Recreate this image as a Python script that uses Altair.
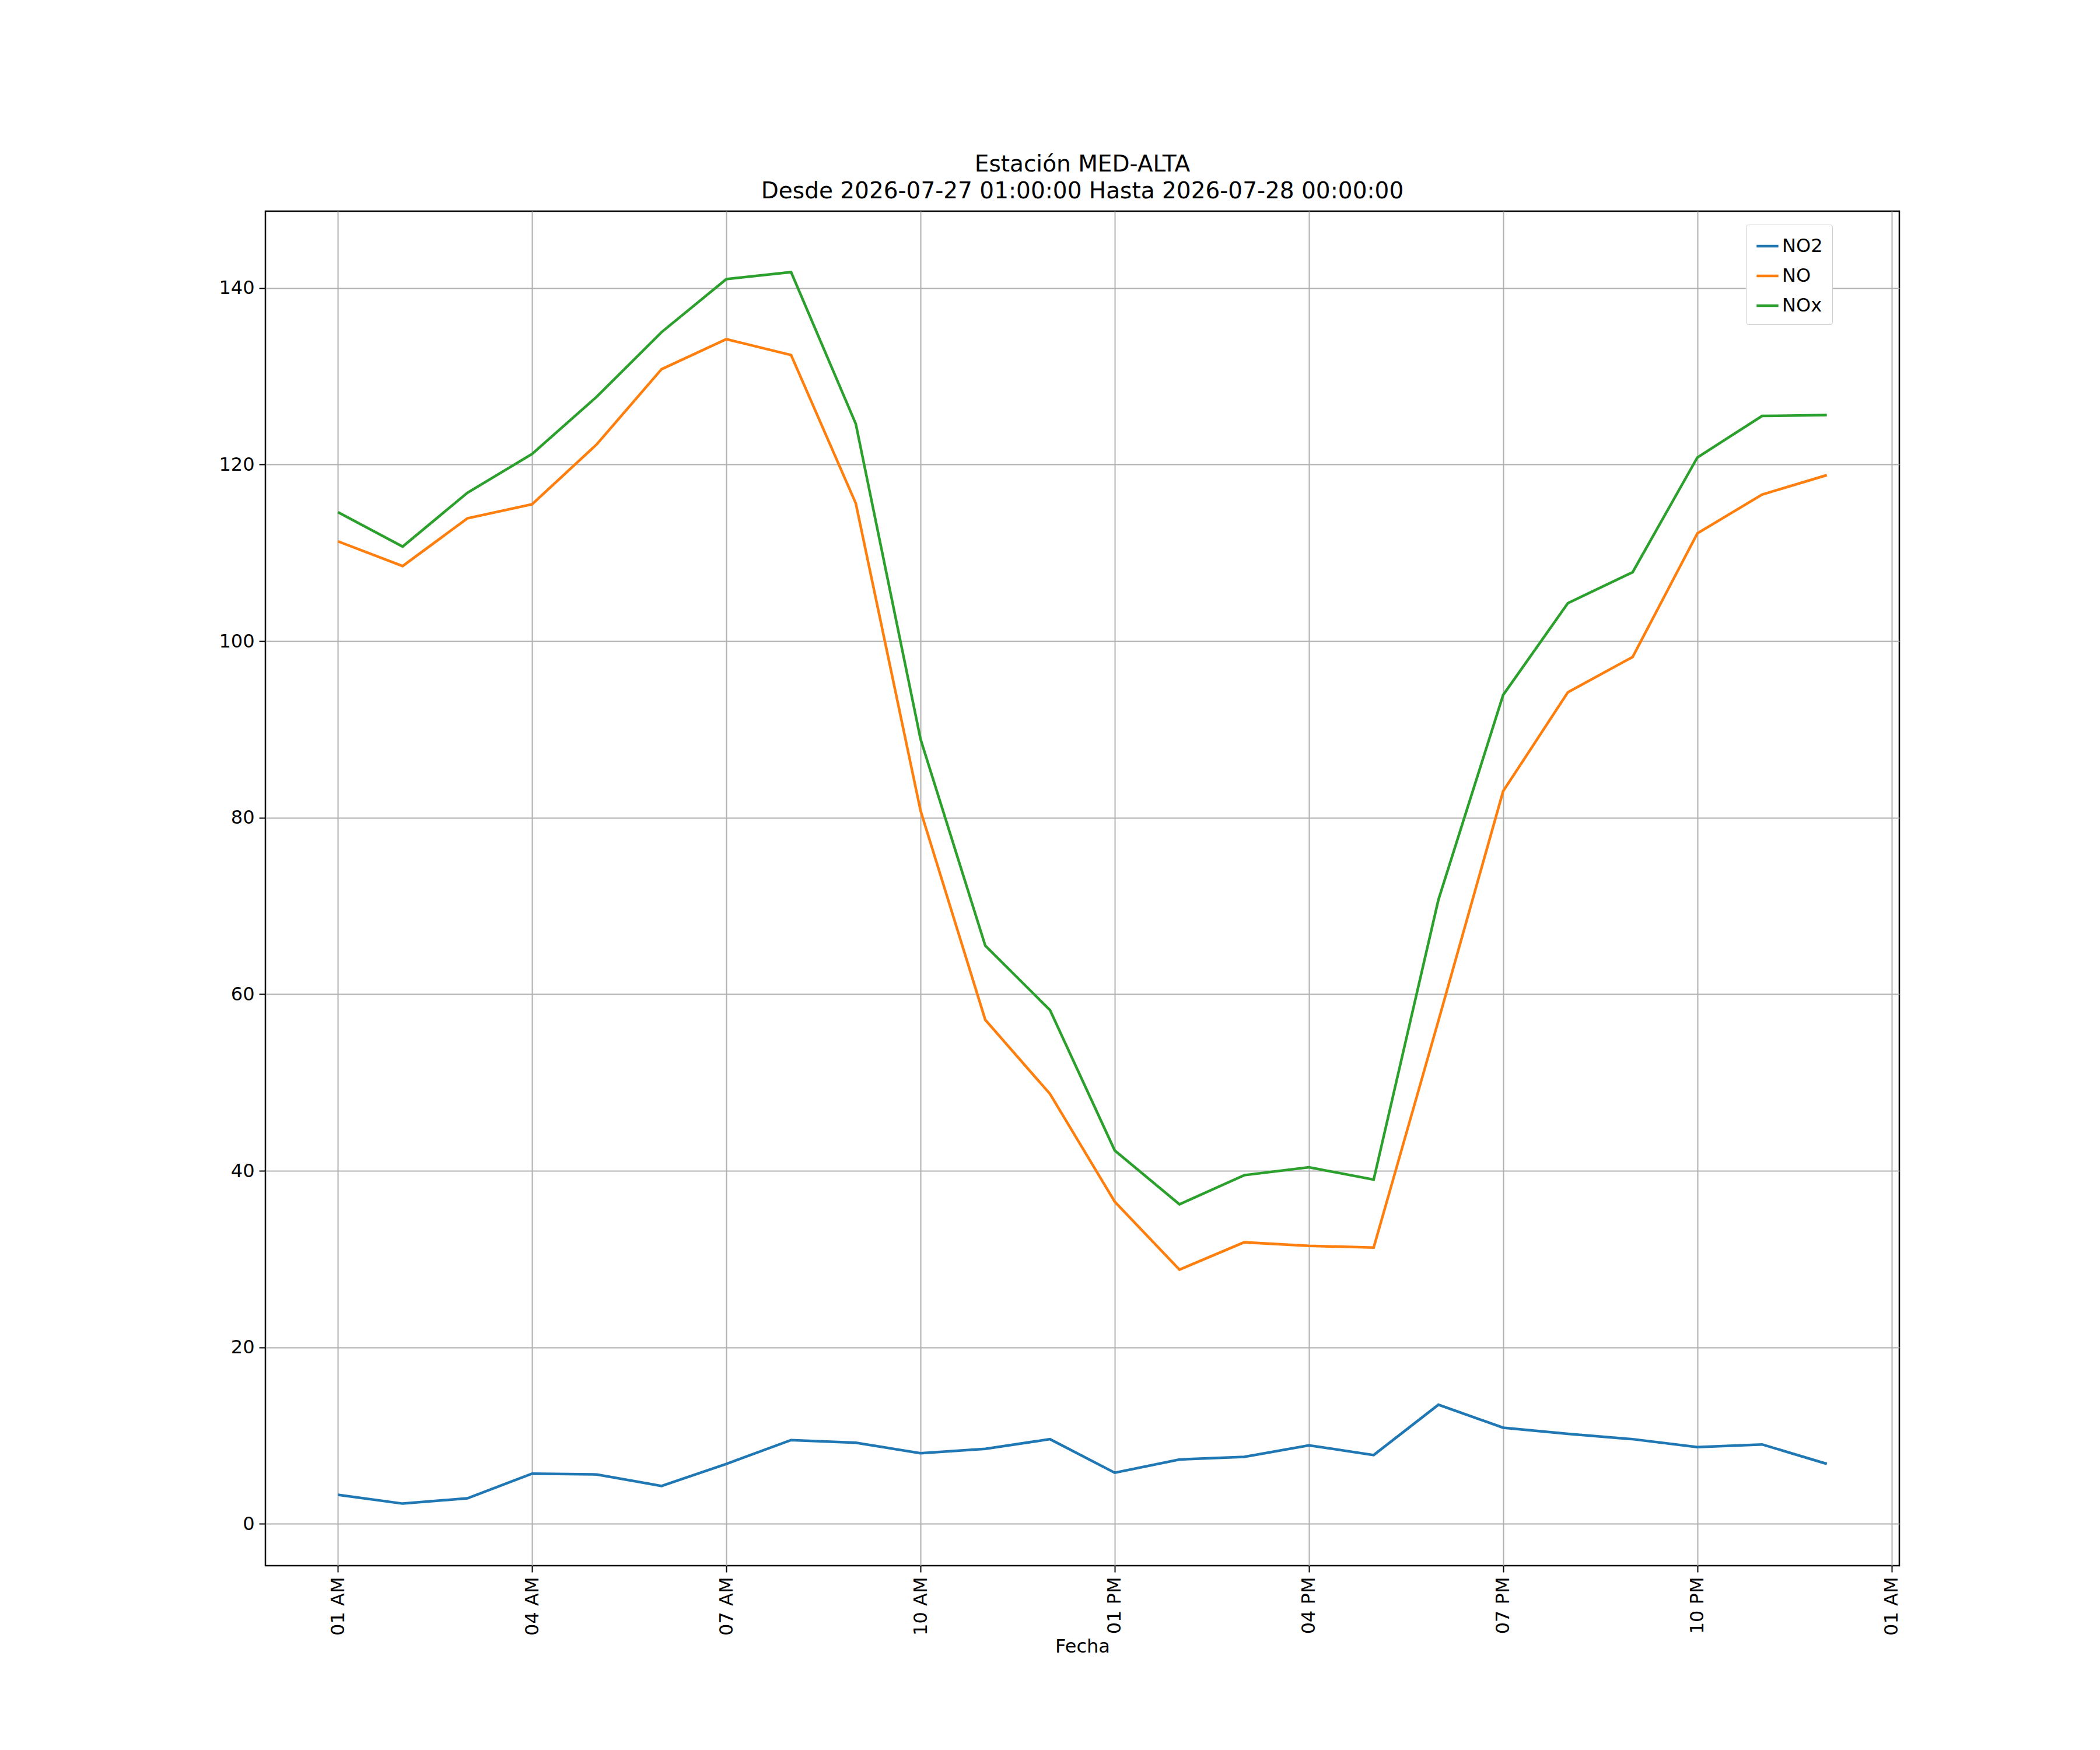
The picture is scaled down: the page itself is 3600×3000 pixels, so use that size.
import altair as alt
import pandas as pd

hours = pd.date_range("2026-07-27 01:00:00", periods=24, freq="h")
no2 = [3.3, 2.3, 2.9, 5.7, 5.6, 4.3, 6.8, 9.5, 9.2, 8.0, 8.5, 9.6, 5.8, 7.3, 7.6, 8.9, 7.8, 13.5, 10.9, 10.2, 9.6, 8.7, 9.0, 6.8]
no = [111.3, 108.5, 113.9, 115.5, 122.3, 130.8, 134.2, 132.4, 115.6, 80.8, 57.1, 48.7, 36.5, 28.8, 31.9, 31.5, 31.3, 57.0, 83.0, 94.2, 98.2, 112.2, 116.6, 118.8]
nox = [114.6, 110.7, 116.8, 121.2, 127.7, 135.0, 141.0, 141.8, 124.6, 88.9, 65.5, 58.2, 42.3, 36.2, 39.5, 40.4, 39.0, 70.7, 93.9, 104.3, 107.8, 120.8, 125.5, 125.6]
series = ["NO2", "NO", "NOx"]
colors = ["#1f77b4", "#ff7f0e", "#2ca02c"]

rows = []
for name, vals in zip(series, [no2, no, nox]):
    for t, v in zip(hours, vals):
        rows.append({"Fecha": t.strftime("%Y-%m-%dT%H:%M:%S"), "serie": name, "valor": v})
df = pd.DataFrame(rows)

ms = lambda s: int(pd.Timestamp(s).value // 10**6)
tick_vals = [ms(t) for t in pd.date_range("2026-07-27 01:00:00", periods=9, freq="3h")]
dom = [ms("2026-07-27 01:00:00") - int(1.12 * 3600000), ms("2026-07-27 01:00:00") + int(24.12 * 3600000)]

F = "DejaVu Sans"
chart = alt.Chart(df).mark_line(strokeWidth=4.5).encode(
    x=alt.X("Fecha:T", scale=alt.Scale(type="utc", domain=dom),
            axis=alt.Axis(values=tick_vals, format="%m-%d %H", formatType="utc", labelAngle=270,
                          title="Fecha")),
    y=alt.Y("valor:Q", scale=alt.Scale(domain=[-4.73, 148.7], nice=False, zero=False),
            axis=alt.Axis(values=list(range(0, 141, 20)), title=None)),
    color=alt.Color("serie:N", scale=alt.Scale(domain=series, range=colors), sort=series,
                    legend=alt.Legend(title=None, orient="none", legendX=2538, legendY=23,
                                      symbolType="stroke", symbolSize=1400, symbolStrokeWidth=4.5,
                                      labelFontSize=32, labelFont=F, strokeColor="#cccccc",
                                      fillColor="white", padding=16, cornerRadius=4, rowPadding=14)),
).properties(
    width=2801, height=2322,
    title=alt.Title(["Estación MED-ALTA", "Desde 2026-07-27 01:00:00 Hasta 2026-07-28 00:00:00"],
                    fontSize=39, font=F, fontWeight="normal", offset=14, lineHeight=46),
    autosize=alt.AutoSizeParams(type="none"),
    padding={"left": 447, "top": 354, "right": 328, "bottom": 308},
    background="white",
).configure_axis(
    labelFont=F, labelFontSize=32, titleFont=F, titleFontSize=32, titleFontWeight="normal",
    labelColor="black", titleColor="black", tickColor="black", domainColor="black",
    tickSize=11, tickWidth=2, labelPadding=8, grid=True, gridColor="#b0b0b0", gridWidth=2,
    domain=False,
).configure_view(stroke="black", strokeWidth=2.5)

chart.save("out.html", embed_options={"renderer": "svg", "actions": False})
